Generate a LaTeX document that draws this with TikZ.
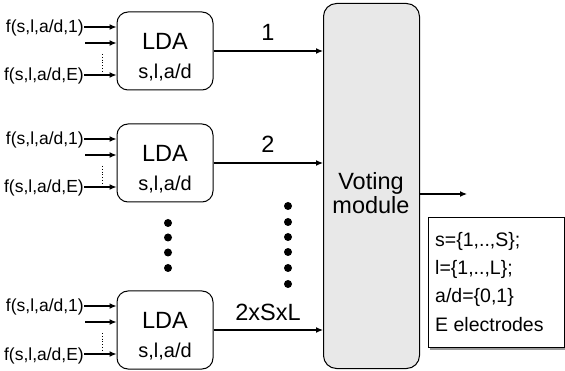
\documentclass[tikz,border=0pt]{standalone}
\usepackage{fontspec}
\setmainfont{Liberation Sans}
\usetikzlibrary{arrows.meta}
\definecolor{panelgray}{HTML}{E8E8E8}
\definecolor{shadowgray}{HTML}{9A9A9A}
\tikzset{
  ldabox/.style={draw, line width=1pt, rounded corners=11pt, minimum width=96pt, minimum height=78pt, inner sep=0pt},
  votebox/.style={draw, line width=1pt, fill=panelgray, rounded corners=13pt, minimum width=96pt, minimum height=365pt, inner sep=0pt},
  conn/.style={line width=1.2pt, -{Latex[length=7pt,width=6pt]}},
  inlabel/.style={anchor=base east, inner sep=0pt, font=\fontsize{17.5}{20}\selectfont},
  big/.style={inner sep=0pt, anchor=base, font=\fontsize{23.5}{26}\selectfont},
  small/.style={inner sep=0pt, anchor=base, font=\fontsize{20}{22}\selectfont},
  infotext/.style={inner sep=0pt, anchor=base west, font=\fontsize{19.5}{22}\selectfont},
  dot/.style={circle, fill=black, inner sep=0pt, minimum size=8pt},
  vdots/.style={line width=0.8pt, dotted}
}
\begin{document}
\begin{tikzpicture}[x=1pt,y=-1pt]
\useasboundingbox (0,0) rectangle (565,371);

% voting module
\node[votebox, anchor=north west] (vote) at (323,3) {};
\node[big] (vt1) at (371,190) {Voting};
\node[big] (vt2) at (371,214) {module};

% the three LDA blocks
\foreach \n/\c/\lab in {1/51/1, 2/163/2, 3/330/2xSxL}{
  \node[ldabox] (lda\n) at (165,\c) {};
  \node[big] (ldat\n) at (165,\c-1) {LDA};
  \node[small] (ldas\n) at (165,\c+28) {s,l,a/d};
  % inputs
  \node[inlabel] (inA\n) at (84,\c-18) {f(s,l,a/d,1)};
  \node[inlabel] (inE\n) at (84,\c+30) {f(s,l,a/d,E)};
  \coordinate (inB\n) at (85,\c-8);
  \draw[conn] (84,\c-24) coordinate (pA\n) -- (pA\n -| lda\n.west);
  \draw[conn] (inB\n) -- (inB\n -| lda\n.west);
  \draw[conn] (84,\c+24) coordinate (pE\n) -- (pE\n -| lda\n.west);
  \coordinate (dtop\n) at (102,\c+3);
  \coordinate (dbot\n) at (102,\c+20);
  \draw[vdots] (dtop\n) -- (dbot\n);
  % output to voting module
  \draw[conn] (lda\n.east) -- (lda\n.east -| vote.west);
  \node[big] (out\n) at (268,\c-10) {\lab};
}

% ellipsis dots between the blocks
\foreach \y [count=\i] in {223,237.5,252.5,268}
  \node[dot] (dl\i) at (168,\y) {};
\foreach \y [count=\i] in {206,222,237,252,268,284}
  \node[dot] (dr\i) at (288,\y) {};

% output of voting module
\coordinate (vout) at (467,194);
\draw[conn] (vout -| vote.east) -- (vout);

% legend box
\fill[shadowgray] (430,219) rectangle (566,350);
\node[draw, fill=white, line width=0.8pt, anchor=north west, minimum width=136pt, minimum height=130pt, inner sep=0pt] (info) at (428,217) {};
\node[infotext] (i1) at (435,247) {s=\{1,..,S\};};
\node[infotext] (i2) at (435,275) {l=\{1,..,L\};};
\node[infotext] (i3) at (435,303) {a/d=\{0,1\}};
\node[infotext] (i4) at (435,332) {E electrodes};
\end{tikzpicture}
\end{document}
